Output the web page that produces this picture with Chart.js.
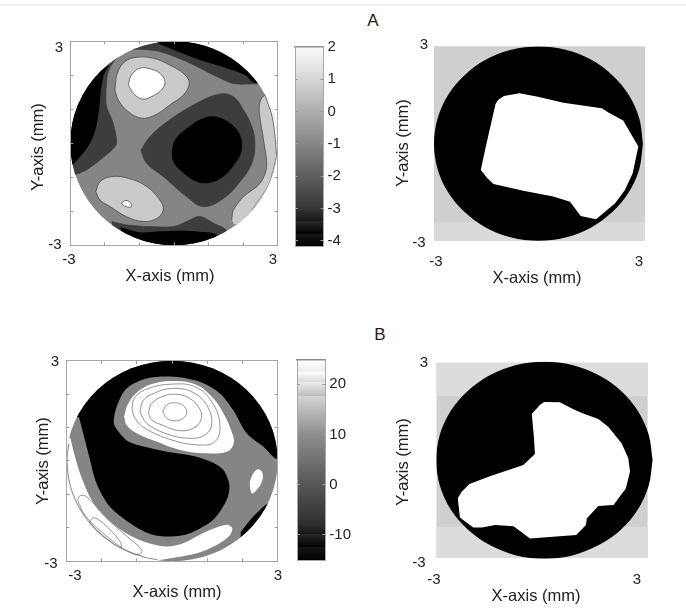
<!DOCTYPE html>
<html>
<head>
<meta charset="utf-8">
<title>Contour maps A and B</title>
<script src="https://cdn.jsdelivr.net/npm/chart.js@4/dist/chart.umd.min.js"></script>
<style>
body { margin: 0; background: #fff; width: 686px; height: 610px; position: relative; overflow: hidden; font-family: "Liberation Sans", sans-serif; color: #222; }
canvas { position: absolute; }
.rule { position: absolute; left: 0; top: 4px; width: 686px; height: 2px; background: #f0f0f0; }
.letter { position: absolute; font-size: 17px; line-height: 20px; width: 20px; text-align: center; }
</style>
</head>
<body>
<div class="rule"></div>
<div class="letter" style="left:363px;top:11px">A</div>
<div class="letter" style="left:370px;top:325px">B</div>
<script>
// axis values, mm
const axisTicks = [-3, -2, -1, 0, 1, 2, 3];
const axisTickLabels = ['-3', '', '', '', '', '', '3'];
const xTitleText = 'X-axis (mm)';
const yTitleText = 'Y-axis (mm)';

// colour bars
const barATicks = [-4, -3, -2, -1, 0, 1, 2];
const barARange = [-4.18, 2];
const barAStops = [-4.18, -3.8, -3.8, -3.4, -3.4, -3, -2, -1, 0, 1, 2];
const barAGrays = ['#000', '#000', '#151515', '#151515', '#272727', '#363636', '#5e5e5e', '#868686', '#aeaeae', '#d6d6d6', '#fbfbfb'];
const barBTicks = [-10, 0, 10, 20];
const barBRange = [-15, 24.8];
const barBStops = [-15, -12.5, -12.5, -9.9, -9.9, -8, 0, 10, 17.6, 17.6, 20.4, 20.4, 22.4, 22.4, 24.8];
const barBGrays = ['#000', '#000', '#141414', '#141414', '#262626', '#2e2e2e', '#565656', '#8e8e8e', '#bcbcbc', '#d4d4d4', '#d8d8d8', '#ececec', '#ececec', '#fff', '#fff'];

// panel A, contour map (x, y in mm)
const fullSquare = [[-3, -3], [3, -3], [3, 3], [-3, 3], [-3, -3]];
const aDarkOuter = [[2.44, 1.75], [1.72, 1.76], [1.14, 2.01], [0.37, 2.40], [-0.41, 2.70], [-0.89, 2.76], [-1.23, 2.75], [-1.66, 2.50], [-1.90, 2.11], [-1.97, 1.47], [-1.95, 1.08], [-1.76, 0.59], [-1.66, 0], [-1.80, -0.20], [-2.14, -0.49], [-2.62, -0.83], [-3, -0.88], [-3, 3], [3, 3], [3, 1.75]];
const aBlackLeft = [[-1.88, 2.28], [-2.03, 2.01], [-2.11, 1.57], [-2.17, 0.98], [-2.26, 0.44], [-2.43, 0], [-2.67, -0.34], [-2.91, -0.61], [-3, -0.61], [-3, 2.28]];
const aBlackTop = [[-0.50, 2.96], [-0.02, 2.75], [0.75, 2.45], [1.52, 2.21], [2.05, 2.01], [2.32, 1.78], [3, 1.78], [3, 3], [-0.50, 3]];
const aDarkBottom = [[-1.80, -2.30], [-1.37, -2.40], [-0.69, -2.45], [-0.02, -2.45], [0.37, -2.30], [0.66, -2.16], [0.85, -2.18], [1.14, -2.35], [1.50, -2.55], [1.50, -3], [-1.80, -3]];
const aBlackBottom = [[-1.54, -2.47], [-0.98, -2.62], [-0.41, -2.59], [0.17, -2.57], [0.75, -2.60], [1.23, -2.68], [1.23, -3], [-1.54, -3]];
const aCentreDark = [[-0.96, -0.20], [-0.69, 0.20], [-0.12, 0.69], [0.66, 1.18], [1.33, 1.45], [1.72, 1.37], [2.01, 0.98], [2.25, 0.49], [2.34, 0], [2.25, -0.59], [1.91, -1.13], [1.43, -1.62], [0.85, -1.86], [0.37, -1.57], [-0.31, -0.98], [-0.79, -0.59]];
const aCentreBlack = [[-0.07, -0.25], [0.03, 0.10], [0.37, 0.44], [0.85, 0.74], [1.23, 0.78], [1.62, 0.59], [1.91, 0.25], [1.96, -0.20], [1.77, -0.59], [1.43, -0.98], [1.04, -1.16], [0.66, -1.13], [0.22, -0.83], [-0.02, -0.54]];
const aLightUpper = [[-1.71, 1.57], [-1.64, 2.06], [-1.42, 2.40], [-1.08, 2.53], [-0.60, 2.50], [-0.12, 2.30], [0.32, 2.01], [0.44, 1.76], [0.27, 1.42], [-0.12, 1.13], [-0.55, 0.83], [-0.94, 0.74], [-1.32, 0.93], [-1.61, 1.27]];
const aWhiteUpper = [[-1.32, 1.72], [-1.23, 2.01], [-0.98, 2.21], [-0.69, 2.19], [-0.41, 2.06], [-0.26, 1.81], [-0.36, 1.57], [-0.60, 1.40], [-0.89, 1.30], [-1.13, 1.42], [-1.27, 1.62]];
const aLightLower = [[-2.26, -1.42], [-2.14, -1.13], [-1.80, -0.98], [-1.32, -1.03], [-0.79, -1.27], [-0.41, -1.67], [-0.31, -1.96], [-0.50, -2.21], [-0.89, -2.30], [-1.37, -2.16], [-1.85, -1.86], [-2.14, -1.67]];
const aWhiteSmall = [[-1.51, -1.75], [-1.39, -1.68], [-1.25, -1.76], [-1.23, -1.86], [-1.37, -1.87], [-1.49, -1.81]];
const aLightRight = [[1.67, -2.25], [1.72, -1.96], [2.01, -1.57], [2.49, -1.18], [2.68, -0.69], [2.59, 0.10], [2.47, 0.88], [2.49, 1.23], [2.63, 1.42], [3, 1.42], [3, -2.40], [1.75, -2.40]];
const aWhiteRight = [[2.63, 1.42], [2.83, 0.83], [2.92, 0.24], [2.97, -0.34], [3, -0.34], [3, 1.42]];
const aRightLine = [[2.97, -0.34], [2.73, -1.23], [2.25, -1.96]];

// panel A, segmented map
const aBandTop = [[-3, -2.42], [3, -2.42], [3, 3], [-3, 3], [-3, -2.42]];
const aDisc = [[2.94, 0], [2.84, 0.77], [2.54, 1.5], [2.07, 2.11], [1.46, 2.59], [0.74, 2.89], [-0.03, 2.99], [-0.8, 2.89], [-1.52, 2.59], [-2.13, 2.11], [-2.6, 1.5], [-2.9, 0.77], [-3, 0], [-2.9, -0.77], [-2.6, -1.5], [-2.13, -2.11], [-1.52, -2.59], [-0.8, -2.89], [-0.03, -2.99], [0.74, -2.89], [1.46, -2.59], [2.07, -2.11], [2.54, -1.5], [2.84, -0.77]];
const aRegion = [[-1.25, 1.22], [-1.17, 1.35], [-1.01, 1.47], [-0.57, 1.55], [-0.08, 1.45], [0.68, 1.26], [1.77, 1.09], [1.96, 0.96], [2.38, 0.71], [2.62, 0.27], [2.81, -0.09], [2.65, -0.91], [2.43, -1.43], [2.15, -1.84], [1.61, -2.33], [1.17, -2.23], [0.87, -1.79], [0.39, -1.63], [-0.46, -1.45], [-1.31, -1.24], [-1.48, -1.07], [-1.67, -0.81], [-1.55, -0.20], [-1.41, 0.47]];

// panel B, contour map
const bWhiteLower = [[-2.88, 0.68], [-2.78, 0.23], [-2.61, -0.37], [-2.28, -1.17], [-1.85, -1.71], [-1.38, -2.11], [-0.81, -2.41], [-0.15, -2.56], [0.32, -2.46], [0.98, -2.11], [1.55, -1.91], [1.71, -2.01], [1.65, -2.21], [1.27, -2.51], [0.70, -2.76], [0.13, -2.88], [-0.44, -2.98], [-0.44, -3], [-3, -3], [-3, 0.68]];
const bRimLine = [[-2.93, 0.52], [-2.98, 0], [-2.88, -0.77], [-2.58, -1.49], [-2.11, -2.11], [-1.49, -2.58], [-0.77, -2.88], [-0.42, -2.95]];
const bBlack = [[-2.64, 1.31], [-2.52, 0.83], [-2.35, 0.13], [-2.14, -0.67], [-1.76, -1.37], [-1.19, -1.86], [-0.62, -2.18], [-0.06, -2.26], [0.51, -2.16], [1.17, -1.76], [1.55, -1.17], [1.63, -0.72], [1.46, -0.27], [1.17, -0.05], [0.61, 0.15], [-0.15, 0.28], [-0.81, 0.43], [-1.24, 0.58], [-1.48, 0.83], [-1.65, 1.13], [-1.57, 1.62], [-1.29, 2.17], [-0.72, 2.47], [0.04, 2.52], [0.79, 2.37], [1.36, 2.02], [1.74, 1.52], [2.12, 0.83], [2.59, 0.43], [2.99, 0.08], [3, 3], [-3, 3], [-3, 1.31]];
const bBlackSliver = [[1.95, -2.12], [2.30, -1.67], [2.75, -1.25], [3, -1.25], [3, -2.40], [1.95, -2.40]];
const bWhiteUpper = [[-1.36, 1.33], [-1.24, 1.72], [-0.91, 2.12], [-0.44, 2.34], [0.13, 2.39], [0.70, 2.27], [1.13, 1.92], [1.46, 1.43], [1.74, 0.73], [1.74, 0.48], [1.55, 0.28], [0.98, 0.23], [0.23, 0.33], [-0.44, 0.58], [-1.00, 0.83], [-1.29, 1.08]];
const bWhiteRight = [[2.21, -0.62], [2.31, -0.37], [2.45, -0.25], [2.57, -0.37], [2.55, -0.62], [2.40, -0.87], [2.28, -0.97], [2.22, -0.82]];
const bRing1 = [[-0.26, 1.48], [-0.15, 1.68], [0.09, 1.74], [0.32, 1.66], [0.42, 1.45], [0.32, 1.28], [0.09, 1.20], [-0.15, 1.28]];
const bRing2 = [[-0.67, 1.43], [-0.58, 1.72], [-0.29, 1.92], [0.09, 2.00], [0.51, 1.87], [0.80, 1.53], [0.82, 1.23], [0.61, 0.98], [0.18, 0.91], [-0.29, 1.08], [-0.58, 1.23]];
const bRing3 = [[-0.91, 1.48], [-0.81, 1.82], [-0.48, 2.04], [-0.01, 2.17], [0.56, 2.07], [0.98, 1.68], [1.13, 1.13], [0.94, 0.78], [0.46, 0.68], [-0.20, 0.83], [-0.72, 1.13]];
const bRing4 = [[-1.14, 1.58], [-1.05, 1.92], [-0.67, 2.17], [-0.01, 2.30], [0.65, 2.22], [1.13, 1.77], [1.36, 1.08], [1.22, 0.58], [0.75, 0.48], [-0.01, 0.63], [-0.77, 0.98], [-1.05, 1.28]];
const bLoop1 = [[-2.68, -1.17], [-2.61, -1.04], [-2.42, -1.07], [-1.90, -1.67], [-1.33, -2.21], [-0.86, -2.66], [-0.94, -2.80], [-1.24, -2.71], [-1.90, -2.21], [-2.47, -1.62]];
const bLoop2 = [[-2.33, -1.82], [-2.23, -1.70], [-2.04, -1.79], [-1.71, -2.11], [-1.45, -2.46], [-1.48, -2.61], [-1.81, -2.36], [-2.19, -2.01]];

// panel B, segmented map
const bBandTop = [[-3, 1.97], [3, 1.97], [3, 3], [-3, 3], [-3, 1.97]];
const bBandBottom = [[-3, -3], [3, -3], [3, -2.05], [-3, -2.05], [-3, -3]];
const bDisc = [[3.14, 0], [3.03, 0.78], [2.72, 1.52], [2.24, 2.14], [1.6, 2.62], [0.86, 2.93], [0.07, 3.03], [-0.73, 2.93], [-1.47, 2.62], [-2.1, 2.14], [-2.59, 1.52], [-2.9, 0.78], [-3, 0], [-2.9, -0.78], [-2.59, -1.52], [-2.1, -2.14], [-1.47, -2.62], [-0.73, -2.93], [0.07, -3.03], [0.86, -2.93], [1.6, -2.62], [2.24, -2.14], [2.72, -1.52], [3.03, -0.78]];
const bRegion = [[-0.29, 1.42], [-0.06, 1.70], [0.06, 1.79], [0.51, 1.78], [0.89, 1.57], [1.17, 1.44], [1.60, 1.27], [1.88, 1.03], [2.26, 0.52], [2.45, 0.06], [2.50, -0.35], [2.38, -0.87], [2.03, -1.38], [1.60, -1.41], [1.27, -1.79], [1.25, -1.99], [0.97, -2.30], [-0.34, -2.41], [-0.72, -2.10], [-0.81, -2.03], [-1.33, -1.99], [-1.71, -2.07], [-1.95, -2.07], [-2.33, -1.76], [-2.39, -1.17], [-2.28, -0.97], [-2.06, -0.73], [-1.48, -0.49], [-0.53, -0.15], [-0.20, 0.19], [-0.23, 0.72]];

const LINE = '#3c3c3c';
const closed = pts => [...pts, pts[0]];

function shape(pts, color, line, tension) {
    return {
        data: pts.map(([x, y]) => ({ x, y })),
        showLine: true,
        pointRadius: 0,
        fill: color ? 'shape' : false,
        backgroundColor: color || 'transparent',
        borderColor: line || 'transparent',
        borderWidth: line ? 0.7 : 0,
        tension: tension === undefined ? 0.3 : tension
    };
}

// closed contour
const blob = (pts, color, line) => shape(closed(pts), color, line, 0.4);

// ticks point inward, on all four sides of the box
function insideAxis(position, min, max, ticks, labels, size) {
    return {
        type: 'linear',
        position: position,
        min: min,
        max: max,
        afterBuildTicks: axis => { axis.ticks = ticks.map(value => ({ value })); },
        afterFit: axis => {
            if (position === 'left' || position === 'right') axis.width = size;
            else axis.height = size;
        },
        grid: { drawOnChartArea: false, tickLength: -3, color: '#9a9a9a', z: 1 },
        border: { color: '#a8a8a8', z: 1 },
        ticks: {
            display: !!labels,
            autoSkip: false,
            maxRotation: 0,
            color: '#222',
            font: { family: 'Liberation Sans', size: 15 },
            callback: (v, i) => labels ? labels[i] : ''
        }
    };
}

// moves the tick labels to where the figure has them, and writes the axis names
const panelText = {
    id: 'panelText',
    afterUpdate(chart, args, opts) {
        for (const id of ['x', 'y']) {
            chart.scales[id].getLabelItems().forEach(item => {
                const spot = opts.spots[id + item.label];
                if (!spot) return;
                item.textOffset = 0;
                item.options.textAlign = 'center';
                item.options.textBaseline = 'middle';
                item.options.translation = [spot[0] - opts.left, spot[1] - opts.top];
            });
        }
    },
    afterDraw(chart, args, opts) {
        const ctx = chart.ctx;
        ctx.save();
        ctx.fillStyle = '#222';
        ctx.font = '16.5px "Liberation Sans"';
        ctx.textAlign = 'center';
        ctx.textBaseline = 'middle';
        ctx.fillText(xTitleText, opts.xTitle[0] - opts.left, opts.xTitle[1] - opts.top);
        ctx.translate(opts.yTitle[0] - opts.left, opts.yTitle[1] - opts.top);
        ctx.rotate(-Math.PI / 2);
        ctx.fillText(yTitleText, 0, 0);
        ctx.restore();
    }
};

// contour maps only exist inside the circular aperture
const apertureClip = {
    id: 'apertureClip',
    beforeDatasetsDraw(chart) {
        const { x, y } = chart.scales;
        const ctx = chart.ctx;
        ctx.save();
        ctx.beginPath();
        ctx.ellipse(x.getPixelForValue(0), y.getPixelForValue(0),
            x.getPixelForValue(3) - x.getPixelForValue(0),
            y.getPixelForValue(-3) - y.getPixelForValue(0), 0, 0, Math.PI * 2);
        ctx.clip();
    },
    afterDatasetsDraw(chart) {
        chart.ctx.restore();
    }
};

function addCanvas(left, top, width, height) {
    const canvas = document.createElement('canvas');
    canvas.width = width;
    canvas.height = height;
    canvas.style.left = left + 'px';
    canvas.style.top = top + 'px';
    canvas.style.width = width + 'px';
    canvas.style.height = height + 'px';
    document.body.appendChild(canvas);
    return canvas;
}

function drawMap(p) {
    const left = Math.floor(p.box[0]) - 70;
    const top = Math.floor(p.box[1]) - 25;
    const width = 290;
    const height = Math.ceil(p.box[3]) + 50 - top;
    const xr = p.xRange || [-3, 3];
    const yr = p.yRange || [-3, 3];
    const x = insideAxis('bottom', xr[0], xr[1], axisTicks, axisTickLabels, top + height - p.box[3]);
    const y = insideAxis('left', yr[0], yr[1], axisTicks, axisTickLabels, p.box[0] - left);
    const scales = { x, y };
    if (p.framed) {
        scales.xTop = insideAxis('top', -3, 3, axisTicks, null, 0);
        scales.yRight = insideAxis('right', -3, 3, axisTicks, null, 0);
    } else {
        x.grid.display = false;
        y.grid.display = false;
        x.border.display = false;
        y.border.display = false;
    }
    new Chart(addCanvas(left, top, width, height), {
        type: 'scatter',
        data: { datasets: [...p.layers].reverse() }, // first dataset is drawn last
        options: {
            responsive: false,
            animation: false,
            events: [],
            layout: { padding: { left: 0, top: p.box[1] - top, right: left + width - p.box[2], bottom: 0 } },
            elements: { line: { capBezierPoints: false } },
            scales,
            plugins: {
                legend: { display: false },
                tooltip: { enabled: false },
                panelText: { left, top, spots: p.spots, xTitle: p.xTitle, yTitle: p.yTitle }
            }
        },
        plugins: p.framed ? [panelText, apertureClip] : [panelText]
    });
}

function drawBar(p) {
    const left = Math.floor(p.box[0]) - 8;
    const top = Math.floor(p.box[1]) - 24;
    const width = 75;
    const height = Math.ceil(p.box[3]) + 24 - top;
    const y = insideAxis('right', p.range[0], p.range[1], p.ticks, p.ticks.map(String), left + width - p.box[2]);
    y.ticks.padding = 7;
    new Chart(addCanvas(left, top, width, height), {
        type: 'bar',
        data: {
            labels: [''],
            datasets: [{
                data: [p.range],
                barPercentage: 1,
                categoryPercentage: 1,
                backgroundColor: ctx => {
                    const area = ctx.chart.chartArea;
                    if (!area) return '#000'; // not laid out yet
                    const g = ctx.chart.ctx.createLinearGradient(0, area.top, 0, area.bottom);
                    p.stops.forEach((v, i) => {
                        g.addColorStop((p.range[1] - v) / (p.range[1] - p.range[0]), p.grays[i]);
                    });
                    return g;
                }
            }]
        },
        options: {
            responsive: false,
            animation: false,
            events: [],
            layout: { padding: { left: p.box[0] - left, top: p.box[1] - top, right: 0, bottom: 0 } },
            scales: {
                x: {
                    grid: { display: false },
                    border: { color: '#a8a8a8', z: 1 },
                    ticks: { display: false },
                    afterFit: axis => { axis.height = top + height - p.box[3]; }
                },
                xTop: {
                    type: 'linear', position: 'top', min: 0, max: 1,
                    grid: { display: false },
                    border: { color: '#8c8c8c', width: 1.5, z: 1 },
                    ticks: { display: false },
                    afterFit: axis => { axis.height = 0; }
                },
                y,
                yLeft: insideAxis('left', p.range[0], p.range[1], p.ticks, null, 0)
            },
            plugins: { legend: { display: false }, tooltip: { enabled: false } }
        }
    });
}

const BLACK = '#000', DARK = '#3d3d3d', MID = '#858585', LIGHT = '#cacaca', WHITE = '#fff';

drawMap({
    box: [70.3, 41.3, 277.7, 245.3],
    framed: true,
    spots: { 'y3': [59, 48], 'y-3': [55, 245], 'x-3': [69, 260], 'x3': [273, 260] },
    xTitle: [170, 276],
    yTitle: [38, 147],
    layers: [
        shape(fullSquare, MID, null, 0),
        shape(aDarkOuter, DARK, LINE),
        shape(aBlackLeft, BLACK),
        shape(aBlackTop, BLACK),
        shape(aDarkBottom, DARK, LINE),
        shape(aBlackBottom, BLACK),
        blob(aCentreDark, DARK, LINE),
        blob(aCentreBlack, BLACK),
        blob(aLightUpper, LIGHT, LINE),
        blob(aWhiteUpper, WHITE, LINE),
        blob(aLightLower, LIGHT, LINE),
        blob(aWhiteSmall, WHITE, LINE),
        shape(aLightRight, LIGHT, LINE),
        shape(aWhiteRight, WHITE, LINE),
        shape(aRightLine, null, '#777')
    ]
});

drawBar({ box: [295, 46.7, 323.5, 246.7], range: barARange, ticks: barATicks, stops: barAStops, grays: barAGrays });

drawMap({
    box: [434, 46.3, 645, 241],
    spots: { 'y3': [424, 45], 'y-3': [419, 243], 'x-3': [436, 262], 'x3': [639, 262] },
    xTitle: [537, 278],
    yTitle: [403, 143],
    layers: [
        shape(fullSquare, '#dadada', null, 0),
        shape(aBandTop, '#cfcfcf', null, 0),
        shape(closed(aDisc), BLACK, null, 0.33),
        shape(closed(aRegion), WHITE, null, 0)
    ]
});

drawMap({
    box: [66.3, 360.7, 277.7, 561.3],
    framed: true,
    spots: { 'y3': [55, 362], 'y-3': [51, 564], 'x-3': [75, 576], 'x3': [278, 576] },
    xTitle: [177, 592],
    yTitle: [43, 461],
    layers: [
        shape(fullSquare, MID, null, 0),
        shape(bWhiteLower, WHITE),
        shape(bRimLine, null, '#555'),
        shape(bBlack, BLACK),
        shape(bBlackSliver, BLACK),
        blob(bWhiteUpper, WHITE),
        blob(bWhiteRight, WHITE),
        blob(bRing4, null, '#666'),
        blob(bRing3, null, '#666'),
        blob(bRing2, null, '#666'),
        blob(bRing1, null, '#666'),
        blob(bLoop1, null, '#666'),
        blob(bLoop2, null, '#666')
    ]
});

drawBar({ box: [297, 360, 325.3, 560], range: barBRange, ticks: barBTicks, stops: barBStops, grays: barBGrays });

drawMap({
    box: [436.3, 361.4, 653.3, 558.7],
    xRange: [-3, 3.16],
    yRange: [-3.03, 3.04],
    spots: { 'y3': [424, 363], 'y-3': [419, 563], 'x-3': [434, 580], 'x3': [637, 580] },
    xTitle: [536, 596],
    yTitle: [403, 462],
    layers: [
        shape(fullSquare, '#cfcfcf', null, 0),
        shape(bBandTop, '#dcdcdc', null, 0),
        shape(bBandBottom, '#dcdcdc', null, 0),
        shape(closed(bDisc), BLACK, null, 0.33),
        shape(closed(bRegion), WHITE, null, 0)
    ]
});
</script>
</body>
</html>
